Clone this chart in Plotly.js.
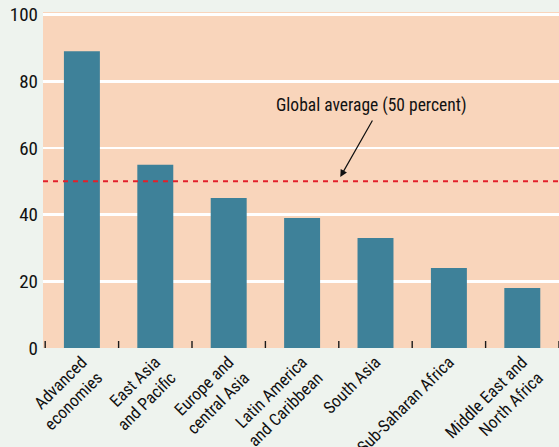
<!DOCTYPE html>
<html>
<head>
<meta charset="utf-8">
<script src="https://cdn.plot.ly/plotly-3.0.1.min.js"></script>
<style>html,body{margin:0;padding:0;background:#eef3ee;}#chart{width:559px;height:447px;}</style>
</head>
<body>
<div id="chart"></div>
<script>
const categories = ["Advanced<br>economies", "East Asia<br>and Pacific", "Europe and<br>central Asia", "Latin America<br>and Caribbean", "South Asia", "Sub-Saharan Africa", "Middle East and<br>North Africa"];
const values = [89, 55, 45, 39, 33, 24, 18];
const globalAverage = 50;
const yTicks = [0, 20, 40, 60, 80, 100];
const annotationText = "Global average (50 percent)";

const FONT = "'Liberation Sans Narrow', 'Arial Narrow', 'Roboto Condensed', sans-serif";
const idx = categories.map((c, i) => i);
const XRANGE = [-0.53, 6.5];
const YRANGE = [0, 100.8];

const trace = {
  type: 'bar',
  x: idx,
  y: values,
  width: 0.49,
  marker: {color: '#3e8199'},
  hoverinfo: 'none'
};

// short tick marks on category boundaries, drawn through the axis scales
const TICK_H = 2.1;
const tickX = [], tickY = [];
idx.concat([categories.length]).forEach(i => {
  tickX.push(i - 0.5, i - 0.5, null);
  tickY.push(0, TICK_H, null);
});
const tickTrace = {
  type: 'scatter', mode: 'lines',
  x: tickX, y: tickY,
  line: {color: '#1a1a1a', width: 1.4},
  hoverinfo: 'none', showlegend: false
};

const layout = {
  width: 559, height: 447,
  margin: {l: 43, r: 0, t: 12, b: 99},
  paper_bgcolor: '#eef3ee',
  plot_bgcolor: '#f9d5bb',
  showlegend: false,
  font: {family: FONT, color: '#111', size: 17},
  xaxis: {
    range: XRANGE,
    tickmode: 'array',
    tickvals: idx,
    ticktext: categories,
    tickangle: -45,
    ticks: '',
    showgrid: false,
    zeroline: false,
    showline: false,
    tickfont: {family: FONT, size: 17, color: '#111'}
  },
  yaxis: {
    range: YRANGE,
    tickmode: 'array',
    tickvals: yTicks,
    ticktext: yTicks.map(String),
    showgrid: true,
    gridcolor: '#ffffff',
    gridwidth: 2.5,
    zeroline: false,
    showline: false,
    ticks: '',
    ticklabelstandoff: 4,
    tickfont: {family: FONT, size: 19, color: '#111'}
  },
  shapes: [{
    type: 'line', xref: 'paper', x0: 0, x1: 1, yref: 'y', y0: globalAverage, y1: globalAverage,
    line: {color: '#e3202b', width: 2, dash: '5px,5px'}
  }],
  annotations: [
    {
      x: 3.52, y: globalAverage + 1.3, xref: 'x', yref: 'y',
      ax: 33, ay: -58, text: '', showarrow: true,
      arrowhead: 2, arrowsize: 1.2, arrowwidth: 1.2, arrowcolor: '#111'
    },
    {
      x: 3.94, y: 72.8, xref: 'x', yref: 'y', text: annotationText, showarrow: false,
      font: {family: FONT, size: 17.5, color: '#111'}
    }
  ]
};

Plotly.newPlot('chart', [trace, tickTrace], layout, {staticPlot: true, displayModeBar: false});
</script>
</body>
</html>
